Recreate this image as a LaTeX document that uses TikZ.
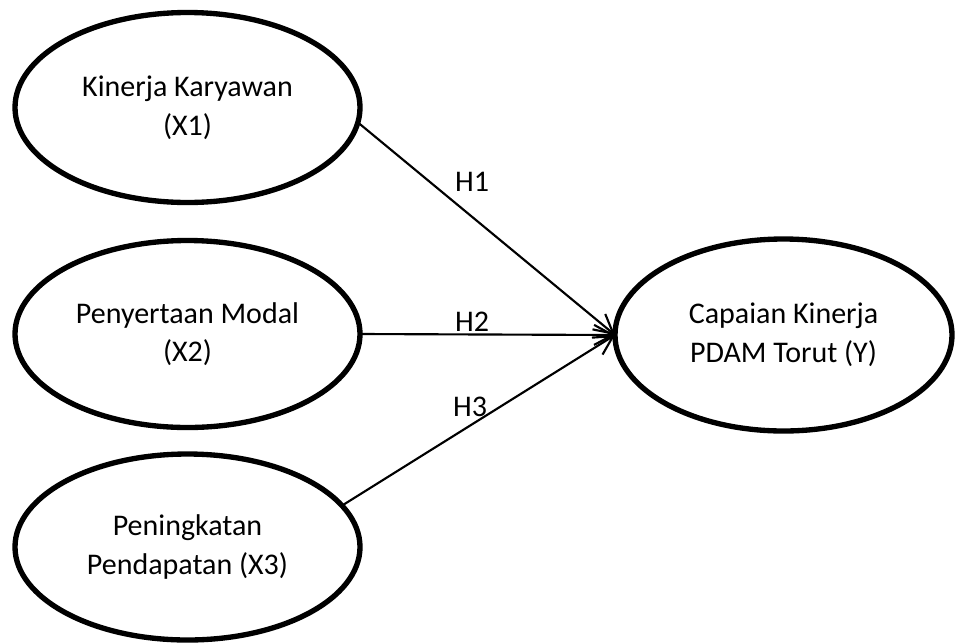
\documentclass[tikz,border=0pt]{standalone}
\usepackage{fontspec}
\setmainfont{Carlito}
\usetikzlibrary{shapes.geometric,arrows.meta}
\begin{document}
\begin{tikzpicture}[x=0.75pt,y=-0.75pt,
        latent/.style={ellipse,draw,line width=4pt,inner sep=0pt,outer sep=0pt,align=center,font=\fontsize{22.5}{29}\selectfont},
        hpath/.style={line width=1.6pt,-{Straight Barb[length=14pt,width=15pt]}},
        hlabel/.style={inner sep=0pt,font=\fontsize{22.5}{29}\selectfont}]
        \useasboundingbox (0,0) rectangle (955,643);
        \node[latent,minimum width=258.75pt,minimum height=142.5pt] (x1) at (187.5,107.5) {Kinerja Karyawan\\(X1)};
        \node[latent,minimum width=258.75pt,minimum height=140.25pt] (x2) at (187.5,334) {Penyertaan Modal\\(X2)};
        \node[latent,minimum width=258.75pt,minimum height=139.5pt] (x3) at (187.5,547) {Peningkatan\\Pendapatan (X3)};
        \node[latent,minimum width=252.75pt,minimum height=144pt] (y) at (783.5,335) {Capaian Kinerja\\PDAM Torut (Y)};
        \draw[hpath] (x1.-5) -- (y.west);
        \draw[hpath] (x2.east) -- (y.west);
        \draw[hpath] (x3.15) -- (y.west);
        \node[hlabel] (h1) at (472,182) {H1};
        \node[hlabel] (h2) at (472,322) {H2};
        \node[hlabel] (h3) at (470,407) {H3};
        \end{tikzpicture}
\end{document}
